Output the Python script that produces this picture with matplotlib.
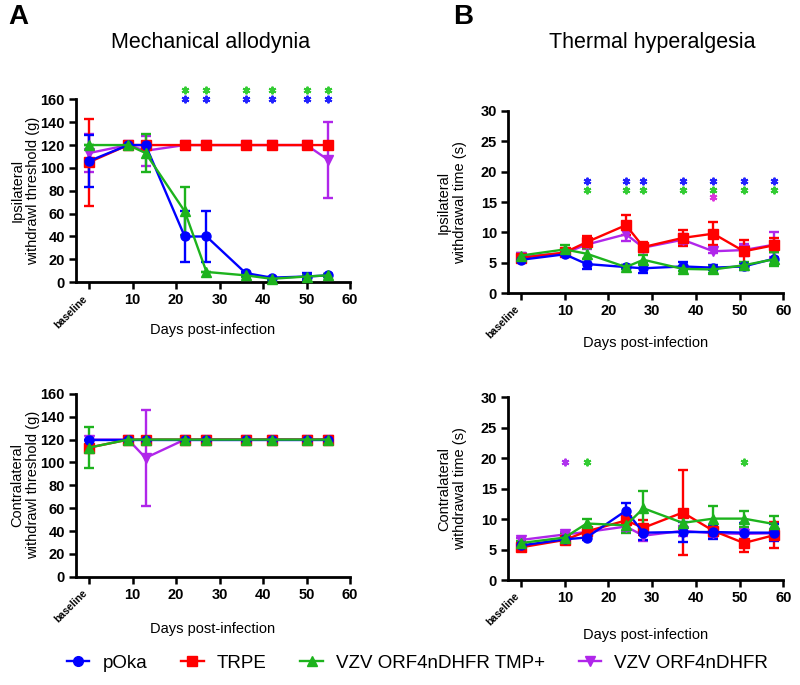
import numpy as np
import matplotlib
matplotlib.use("Agg")
import matplotlib.pyplot as plt
from matplotlib.lines import Line2D

plt.rcParams['font.family'] = ['Liberation Sans', 'DejaVu Sans']

# groups and colours
groups = ['pOka', 'TRPE', 'VZV ORF4nDHFR TMP+', 'VZV ORF4nDHFR']
colors = ['#0000ff', '#ff0000', '#1db31d', '#b026ea']
markers = ['o', 's', '^', 'v']

# mechanical allodynia (von Frey), days post-infection
days_a = [0, 9, 13, 22, 27, 36, 42, 50, 55]
mech_ipsi = [
    [106, 120, 120, 40, 40, 8, 4, 5, 6],
    [105, 120, 120, 120, 120, 120, 120, 120, 120],
    [120, 120, 113, 62, 9, 6, 3, 5, 6],
    [113, 120, 115, 120, 120, 120, 120, 120, 107],
]
mech_ipsi_sem = [
    [23, 0, 0, 22, 22, 1, 1, 3, 1],
    [38, 0, 0, 0, 0, 0, 0, 0, 0],
    [0, 0, 17, 21, 0, 1, 1, 1, 1],
    [17, 0, 13, 0, 0, 0, 0, 0, 33],
]
mech_contra = [
    [120, 120, 120, 120, 120, 120, 120, 120, 120],
    [113, 120, 120, 120, 120, 120, 120, 120, 120],
    [113, 120, 120, 120, 120, 120, 120, 120, 120],
    [120, 120, 104, 120, 120, 120, 120, 120, 120],
]
mech_contra_sem = [
    [0, 0, 0, 0, 0, 0, 0, 0, 0],
    [0, 0, 0, 0, 0, 0, 0, 0, 0],
    [18, 0, 0, 0, 0, 0, 0, 0, 0],
    [0, 0, 42, 0, 0, 0, 0, 0, 0],
]

# thermal hyperalgesia (Hargreaves)
days_b = [0, 10, 15, 24, 28, 37, 44, 51, 58]
therm_ipsi = [
    [5.5, 6.4, 4.8, 4.3, 4.1, 4.4, 4.2, 4.4, 5.7],
    [5.8, 6.7, 8.4, 11.2, 7.6, 9.1, 9.8, 6.9, 7.9],
    [6.2, 7.2, 6.5, 4.3, 5.5, 4.0, 3.9, 4.6, 5.6],
    [6.0, 6.6, 8.0, 9.7, 7.5, 8.8, 6.9, 7.1, 8.0],
]
therm_ipsi_sem = [
    [0.3, 0.3, 0.9, 0.4, 0.85, 0.7, 0.4, 0.6, 1.1],
    [0.4, 0.4, 1.0, 1.6, 0.85, 1.3, 1.85, 1.9, 1.2],
    [0.4, 0.8, 0.9, 0.3, 0.75, 0.4, 0.5, 0.6, 1.2],
    [0.4, 0.5, 0.7, 1.1, 0.7, 0.9, 0.3, 1.0, 2.0],
]
therm_contra = [
    [5.7, 6.7, 7.0, 11.4, 7.8, 7.9, 7.9, 7.8, 7.8],
    [5.4, 6.6, 8.0, 9.8, 8.6, 11.1, 8.1, 6.1, 7.4],
    [6.1, 7.0, 9.3, 9.0, 11.8, 9.4, 10.1, 10.1, 9.2],
    [6.6, 7.5, 7.9, 8.8, 7.3, 8.1, 7.7, 7.6, 7.7],
]
therm_contra_sem = [
    [0.4, 0.4, 0.4, 1.2, 1.2, 1.6, 1.1, 1.5, 1.4],
    [0.4, 0.3, 0.5, 0.8, 1.2, 7.0, 0.6, 1.4, 2.2],
    [0.4, 0.6, 0.7, 1.3, 2.9, 1.0, 2.0, 1.3, 1.35],
    [0.4, 0.4, 0.4, 0.8, 0.85, 0.8, 0.8, 0.8, 0.6],
]

# significance stars: (days, y, colour)
stars_a_ipsi = [([22, 27, 36, 42, 50, 55], 168, '#33cc33'),
                ([22, 27, 36, 42, 50, 55], 160, '#2222ff')]
stars_b_ipsi = [([15, 24, 28, 37, 44, 51, 58], 18.4, '#2222ff'),
                ([15, 24, 28, 37, 44, 51, 58], 17.0, '#33cc33'),
                ([44], 15.8, '#dd33dd')]
stars_b_contra = [([10], 19.4, '#b033ee'),
                  ([15, 51], 19.4, '#33cc33')]

xticks = [0, 10, 20, 30, 40, 50, 60]
xticklabels = ['baseline', '10', '20', '30', '40', '50', '60']

fig = plt.figure(figsize=(8, 6.85), dpi=100)


def draw_panel(rect, days, means, sems, ymax, ystep, ylabel, ylab_x, xlab_y, stars=()):
    ax = fig.add_axes(rect)
    order = [3, 1, 0, 2]
    for i in order:
        ax.errorbar(days, means[i], yerr=sems[i], color=colors[i], marker=markers[i],
                    markersize=6.5, lw=1.7, elinewidth=1.7, capsize=3.5, capthick=1.7,
                    clip_on=False, zorder=3)
    for sd, sy, sc in stars:
        ax.plot(sd, [sy] * len(sd), linestyle='none', marker=(6, 2, 0), markersize=5.5,
                color=sc, mew=1.4, clip_on=False, zorder=4)
    ax.set_xlim(-3, 60)
    ax.set_ylim(0, ymax)
    ax.set_yticks(np.arange(0, ymax + 1, ystep))
    ax.set_xticks(xticks)
    ax.set_xticklabels(xticklabels)
    for sp in ['top', 'right']:
        ax.spines[sp].set_visible(False)
    for sp in ['left', 'bottom']:
        ax.spines[sp].set_linewidth(2)
    ax.tick_params(width=1.8, length=5, labelsize=10.5, pad=3)
    for lab in ax.get_yticklabels() + ax.get_xticklabels():
        lab.set_fontweight('bold')
    base = ax.get_xticklabels()[0]
    base.set_rotation(45)
    base.set_fontsize(7.5)
    base.set_ha('right')
    base.set_va('top')
    ax.set_ylabel(ylabel, fontsize=10.5, linespacing=1.2)
    ax.yaxis.set_label_coords(ylab_x, 0.5)
    ax.set_xlabel('Days post-infection', fontsize=10.5)
    ax.xaxis.set_label_coords(0.5, xlab_y)
    return ax


draw_panel([0.095, 0.588, 0.3425, 0.267], days_a, mech_ipsi, mech_ipsi_sem, 160, 20,
           'Ipsilateral\nwithdrawl threshold (g)', -0.13, -0.225, stars_a_ipsi)
draw_panel([0.095, 0.158, 0.3425, 0.267], days_a, mech_contra, mech_contra_sem, 160, 20,
           'Contralateral\nwithdrawl threshold (g)', -0.13, -0.245)
draw_panel([0.635, 0.572, 0.344, 0.266], days_b, therm_ipsi, therm_ipsi_sem, 30, 5,
           'Ipsilateral\nwithdrawal time (s)', -0.149, -0.235, stars_b_ipsi)
draw_panel([0.635, 0.153, 0.344, 0.267], days_b, therm_contra, therm_contra_sem, 30, 5,
           'Contralateral\nwithdrawal time (s)', -0.149, -0.26, stars_b_contra)

fig.text(0.263, 0.938, 'Mechanical allodynia', fontsize=15.5, ha='center', va='center')
fig.text(0.815, 0.938, 'Thermal hyperalgesia', fontsize=15.5, ha='center', va='center')
fig.text(0.01, 0.975, 'A', fontsize=20, fontweight='bold', ha='left', va='center')
fig.text(0.567, 0.975, 'B', fontsize=20, fontweight='bold', ha='left', va='center')

handles = [Line2D([], [], color=c, marker=m, markersize=7, lw=1.7)
           for c, m in zip(colors, markers)]
fig.legend(handles, groups, loc='center', bbox_to_anchor=(0.522, 0.032), ncol=4,
           frameon=False, fontsize=13.5, handlelength=1.2, handletextpad=0.7,
           columnspacing=1.8)

fig.savefig('out.png', dpi=100)
